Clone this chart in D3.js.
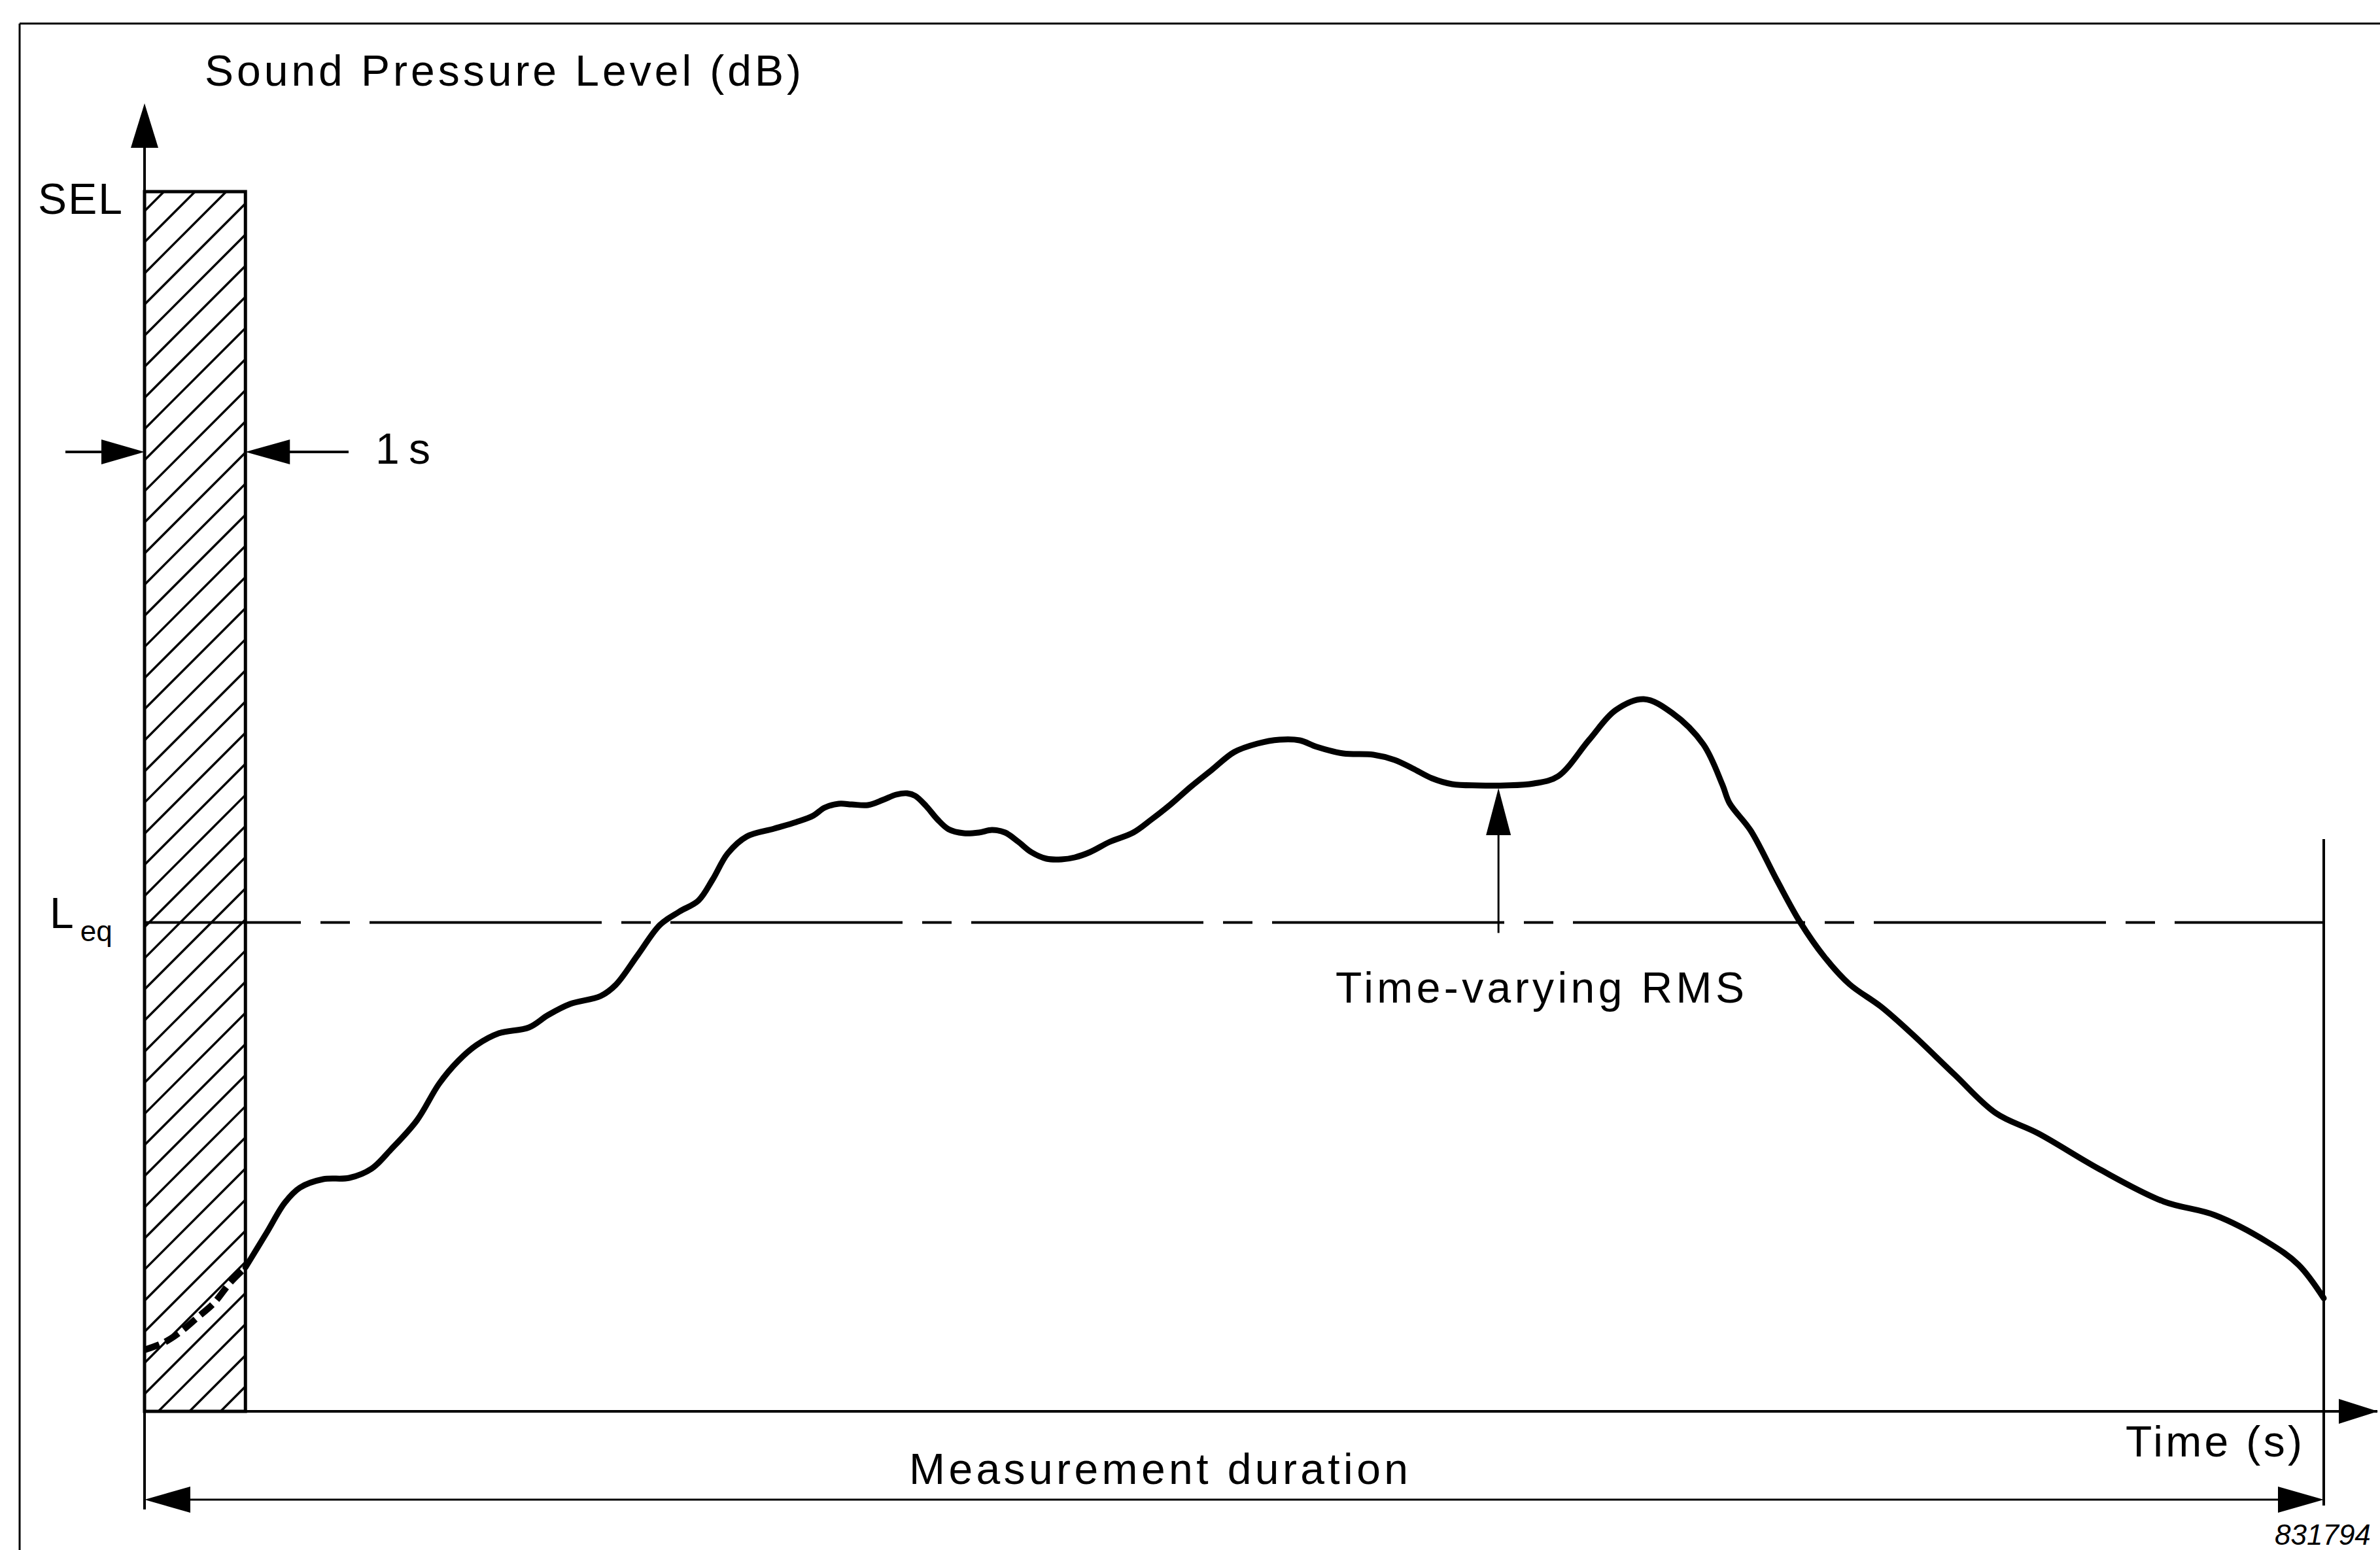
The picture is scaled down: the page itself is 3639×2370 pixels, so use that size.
<!DOCTYPE html>
<html>
<head>
<meta charset="utf-8">
<script src="https://cdn.jsdelivr.net/npm/d3@7"></script>
<style>
body { margin: 0; background: #fff; }
text { font-family: "Liberation Sans", Arial, sans-serif; fill: #000; }
</style>
</head>
<body>
<div id="chart"></div>
<script>
// time-varying RMS trace (time in s, level in dB)
var times = [0.00, 0.19, 0.36, 0.52, 0.69, 0.85, 1.00, 1.21, 1.39, 1.54,
             1.77, 2.03, 2.25, 2.44, 2.70, 2.92, 3.11, 3.29, 3.51, 3.81,
             4.00, 4.22, 4.52, 4.67, 4.89, 5.11, 5.30, 5.49, 5.63, 5.78,
             5.97, 6.24, 6.46, 6.63, 6.74, 6.88, 7.01, 7.17, 7.32, 7.45,
             7.56, 7.64, 7.75, 7.86, 7.97, 8.12, 8.27, 8.40, 8.53, 8.66,
             8.79, 8.94, 9.09, 9.22, 9.37, 9.57, 9.80, 9.98, 10.17, 10.37,
             10.58, 10.80, 11.03, 11.25, 11.45, 11.62, 11.88, 12.18, 12.39, 12.57,
             12.76, 12.96, 13.22, 13.48, 13.77, 14.01, 14.32, 14.58, 14.86, 15.14,
             15.45, 15.64, 15.71, 15.92, 16.18, 16.41, 16.65, 16.90, 17.21, 17.52,
             17.94, 18.35, 18.77, 19.38, 20.01, 20.52, 21.04, 21.35, 21.60];

var levels = [43.76, 44.20, 44.88, 45.72, 46.64, 47.88, 48.80, 50.92, 52.76, 53.68,
              54.20, 54.28, 54.84, 56.00, 57.80, 60.04, 61.44, 62.40, 63.12, 63.48,
              64.24, 64.92, 65.40, 66.08, 67.92, 69.76, 70.56, 71.24, 72.52, 74.12,
              75.16, 75.64, 76.04, 76.44, 76.92, 77.16, 77.12, 77.08, 77.40, 77.72,
              77.80, 77.64, 77.00, 76.20, 75.60, 75.36, 75.40, 75.56, 75.40, 74.84,
              74.20, 73.80, 73.76, 73.88, 74.20, 74.84, 75.40, 76.20, 77.12, 78.20,
              79.24, 80.32, 80.84, 81.08, 81.04, 80.64, 80.24, 80.16, 79.84, 79.32,
              78.72, 78.36, 78.28, 78.28, 78.40, 78.84, 81.08, 82.88, 83.56, 82.72,
              80.80, 78.32, 77.20, 75.52, 72.48, 69.92, 67.80, 66.12, 64.76, 63.08,
              60.60, 58.24, 57.00, 54.80, 52.84, 52.00, 50.36, 48.96, 46.92];

var selLevel = 114.6,
    leqLevel = 69.9,
    selWidth = 1,        // seconds
    duration = 21.6,     // seconds
    rmsTime = 13.42;     // where the RMS pointer sits

var yLabel = "Sound Pressure Level (dB)",
    xLabel = "Time (s)",
    durationLabel = "Measurement duration",
    rmsLabel = "Time-varying RMS",
    selLabel = "SEL",
    oneSecLabel = "1 s",
    figNumber = "831794";

var global_width = 3639,
    global_height = 2370;

var svg = d3.select("div#chart")
            .append("svg")
            .attr("width", global_width)
            .attr("height", global_height);

// scales
var xScale = d3.scaleLinear().domain([0, duration]).range([221, 3553]),
    yScale = d3.scaleLinear().domain([40, 120]).range([2158, 158]);

var x0 = xScale(0),
    xEnd = xScale(duration),
    yBase = yScale(40);

// arrow head, tip at (x, y), pointing along (dx, dy)
function arrowHead(x, y, dx, dy, len, half) {
    var bx = x - dx * len, by = y - dy * len;
    var px = -dy * half, py = dx * half;
    svg.append("path")
       .attr("d", "M" + x + "," + y + "L" + (bx + px) + "," + (by + py) +
                  "L" + (bx - px) + "," + (by - py) + "Z")
       .attr("fill", "#000");
}

function hline(xa, xb, y, w) {
    svg.append("line")
       .attr("x1", xa).attr("x2", xb).attr("y1", y).attr("y2", y)
       .attr("stroke", "#000").attr("stroke-width", w);
}

function vline(x, ya, yb, w) {
    svg.append("line")
       .attr("x1", x).attr("x2", x).attr("y1", ya).attr("y2", yb)
       .attr("stroke", "#000").attr("stroke-width", w);
}

// frame (top + left only, the rest is cut off)
hline(30, global_width, 36, 3);
vline(30, 36, global_height, 3);

// SEL bar, hatched
var rx0 = xScale(0), rx1 = xScale(selWidth), ry = yScale(selLevel);

svg.append("clipPath")
   .attr("id", "selclip")
   .append("rect")
   .attr("x", rx0).attr("y", ry)
   .attr("width", rx1 - rx0).attr("height", yBase - ry);

var hatch = svg.append("g").attr("clip-path", "url(#selclip)");
var hatchGap = 47.6,
    hatchAnchor = yScale(leqLevel) + 7;
for (var k = -24; k <= 19; k++) {
    var yk = hatchAnchor + k * hatchGap;
    hatch.append("line")
         .attr("x1", rx0).attr("y1", yk)
         .attr("x2", rx1).attr("y2", yk - (rx1 - rx0))
         .attr("stroke", "#000")
         .attr("stroke-width", 3.5);
}

svg.append("rect")
   .attr("x", rx0).attr("y", ry)
   .attr("width", rx1 - rx0).attr("height", yBase - ry)
   .attr("fill", "none")
   .attr("stroke", "#000")
   .attr("stroke-width", 5);

// Leq dash-dot line
svg.append("line")
   .attr("x1", x0).attr("x2", xEnd)
   .attr("y1", yScale(leqLevel)).attr("y2", yScale(leqLevel))
   .attr("stroke", "#000")
   .attr("stroke-width", 4)
   .attr("stroke-dasharray", "355,30,45,30")
   .attr("stroke-dashoffset", 116);

// axes
vline(x0, yBase + 150, yScale(120) + 60, 4);
arrowHead(x0, yScale(120), 0, -1, 68, 21);
hline(x0, global_width - 4, yBase, 4);
arrowHead(global_width - 3, yBase, 1, 0, 60, 19);

// right end of the measurement
vline(xEnd, 1283, 2302, 4);

// measurement duration double arrow
var yDur = 2293;
hline(x0 + 20, xEnd - 20, yDur, 3);
arrowHead(x0, yDur, -1, 0, 70, 20);
arrowHead(xEnd, yDur, 1, 0, 70, 20);

// 1 s width arrows
var yOne = 691;
hline(100, rx0 - 20, yOne, 4);
arrowHead(rx0, yOne, 1, 0, 66, 19);
hline(rx1 + 20, 533, yOne, 4);
arrowHead(rx1, yOne, -1, 0, 68, 19);

// the curve
var pts = times.map(function(t, i) { return {t: t, v: levels[i]}; });

var line = d3.line()
             .x(function(d) { return xScale(d.t); })
             .y(function(d) { return yScale(d.v); })
             .curve(d3.curveCatmullRom.alpha(0.5));

svg.append("path")
   .datum(pts.filter(function(d) { return d.t <= selWidth; }))
   .attr("d", line)
   .attr("fill", "none")
   .attr("stroke", "#000")
   .attr("stroke-width", 10)
   .attr("stroke-dasharray", "24,10");

svg.append("path")
   .datum(pts.filter(function(d) { return d.t >= selWidth; }))
   .attr("d", line)
   .attr("fill", "none")
   .attr("stroke", "#000")
   .attr("stroke-width", 9)
   .attr("stroke-linejoin", "round")
   .attr("stroke-linecap", "round");

// RMS pointer
var rmsX = xScale(rmsTime),
    rmsIdx = d3.bisectLeft(times, rmsTime),
    rmsY = yScale(levels[rmsIdx]);
vline(rmsX, yScale(leqLevel) + 16, rmsY + 60, 3);
arrowHead(rmsX, rmsY + 4, 0, -1, 72, 19);

// labels
var fs = 66;

svg.append("text")
   .attr("x", 313).attr("y", 131)
   .attr("font-size", fs)
   .attr("textLength", 912)
   .attr("lengthAdjust", "spacing")
   .text(yLabel);

svg.append("text")
   .attr("x", 58).attr("y", 327)
   .attr("font-size", fs)
   .attr("textLength", 129)
   .attr("lengthAdjust", "spacing")
   .text(selLabel);

svg.append("text")
   .attr("x", 574).attr("y", 709)
   .attr("font-size", fs)
   .attr("textLength", 84)
   .attr("lengthAdjust", "spacing")
   .text(oneSecLabel);

var leq = svg.append("text")
   .attr("x", 76).attr("y", 1419)
   .attr("font-size", fs);
leq.append("tspan").text("L");
leq.append("tspan")
   .attr("dx", 10).attr("dy", 20)
   .attr("font-size", 44)
   .text("eq");

svg.append("text")
   .attr("x", 2042).attr("y", 1533)
   .attr("font-size", fs)
   .attr("textLength", 625)
   .attr("lengthAdjust", "spacing")
   .text(rmsLabel);

svg.append("text")
   .attr("x", 3250).attr("y", 2227)
   .attr("font-size", fs)
   .attr("textLength", 270)
   .attr("lengthAdjust", "spacing")
   .text(xLabel);

svg.append("text")
   .attr("x", 1390).attr("y", 2269)
   .attr("font-size", fs)
   .attr("textLength", 763)
   .attr("lengthAdjust", "spacing")
   .text(durationLabel);

svg.append("text")
   .attr("x", 3478).attr("y", 2362)
   .attr("font-size", 44)
   .attr("font-style", "italic")
   .text(figNumber);
</script>
</body>
</html>
